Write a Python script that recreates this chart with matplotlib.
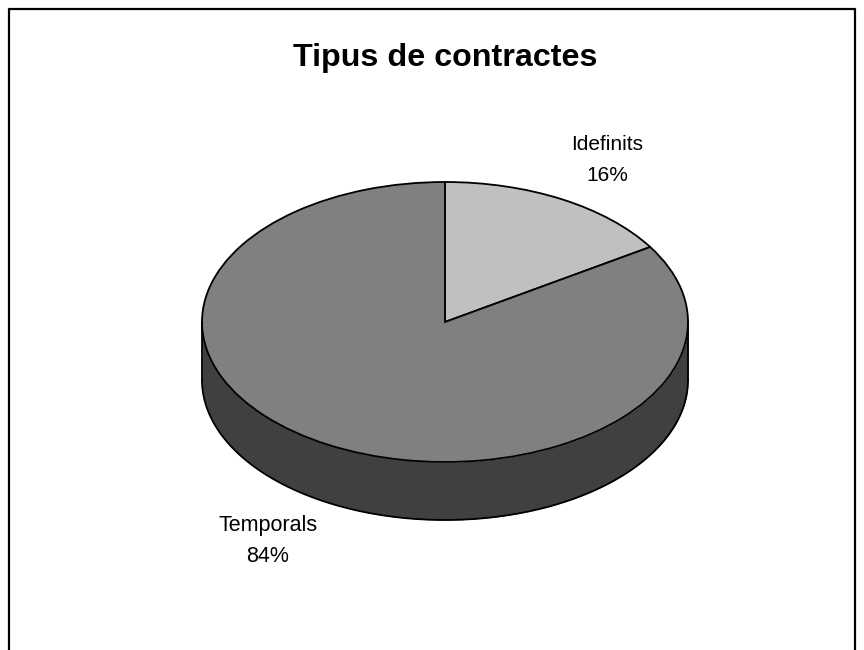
import numpy as np
import matplotlib
matplotlib.use("Agg")
import matplotlib.pyplot as plt
from matplotlib.transforms import Affine2D

title = "Tipus de contractes"
categories = ["Idefinits", "Temporals"]
shares = [16, 84]
colors = ["#C0C0C0", "#808080"]
side_color = "#404040"

W, H = 864, 650
plt.rcParams["font.family"] = ["Liberation Sans", "DejaVu Sans"]
fig = plt.figure(figsize=(W / 100, H / 100), dpi=100)
ax = fig.add_axes([0, 0, 1, 1])

cx, cy, rx, ry, depth = 445, 322, 243, 140, 58
edge_lw = 1.3

# frame (open at the bottom, cropped)
ax.plot([9, 9, 855, 855], [H, 9, 9, H], color="black", lw=1.6, clip_on=False)

# side wall
t = np.linspace(0, np.pi, 200)
xs = cx + rx * np.cos(t)
ax.fill_between(xs, cy + ry * np.sin(t), cy + ry * np.sin(t) + depth,
                color=side_color, lw=0)
ax.plot(xs, cy + ry * np.sin(t) + depth, color="black", lw=edge_lw)
ax.plot([cx - rx, cx - rx], [cy, cy + depth], color="black", lw=edge_lw)
ax.plot([cx + rx, cx + rx], [cy, cy + depth], color="black", lw=edge_lw)

# top face: y axis is inverted, so counterclock=True runs clockwise on screen
wedges, _ = ax.pie(shares, colors=colors, startangle=-90, counterclock=True,
                   radius=1, wedgeprops=dict(edgecolor="black", linewidth=edge_lw),
                   frame=True)
for w in wedges:
    w.set_transform(Affine2D().scale(rx, ry) + ax.transData)
    w.set_center((cx / rx, cy / ry))
ax.set_aspect("auto")
ax.set_xlim(0, W)
ax.set_ylim(H, 0)
ax.axis("off")

ax.text(445, 58, title, ha="center", va="center", fontsize=23.2, fontweight="bold")
ax.text(607, 160, f"{categories[0]}\n{shares[0]}%", ha="center", va="center",
        fontsize=15, linespacing=1.74)
ax.text(268, 541, f"{categories[1]}\n{shares[1]}%", ha="center", va="center",
        fontsize=15.5, linespacing=1.58)

fig.savefig("out.png", dpi=100)
